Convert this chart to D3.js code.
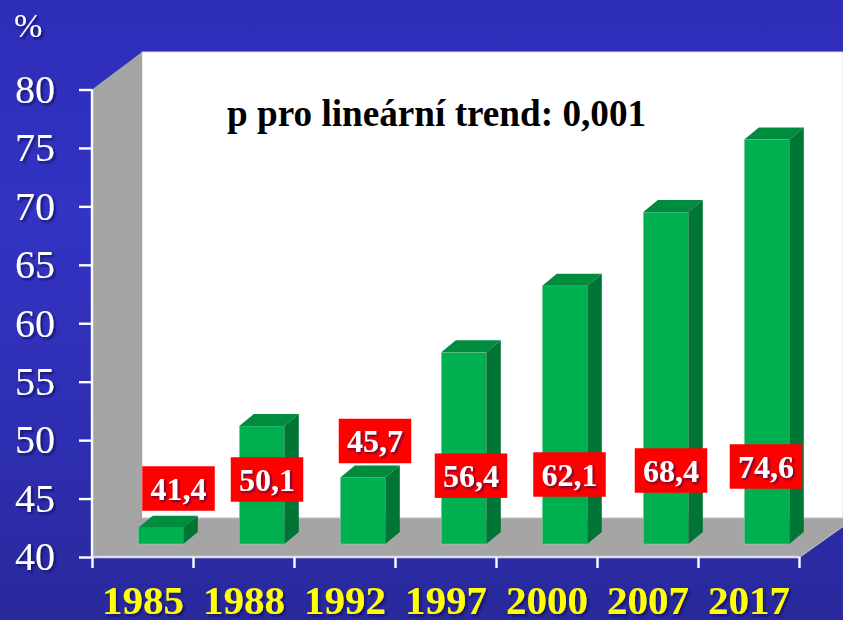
<!DOCTYPE html>
<html>
<head>
<meta charset="utf-8">
<script src="https://cdn.jsdelivr.net/npm/d3@7/dist/d3.min.js"></script>
<style>
html,body{margin:0;padding:0;background:#2b2ba8;overflow:hidden}
svg{display:block}
text{font-family:"Liberation Serif",serif}
</style>
</head>
<body>
<svg id="chart" width="843" height="620"></svg>
<script>
const years = ["1985","1988","1992","1997","2000","2007","2017"];
const values = [41.4,50.1,45.7,56.4,62.1,68.4,74.6];
const valueLabels = ["41,4","50,1","45,7","56,4","62,1","68,4","74,6"];
const yTicks = [40,45,50,55,60,65,70,75,80];
const yUnit = "%";
const trendNote = "p pro lineární trend: 0,001";

const W = 843, H = 620;
const svg = d3.select("#chart");
const x = d3.scaleBand().domain(years).range([92,799]).paddingInner(0).paddingOuter(0);
const y = d3.scaleLinear().domain([40,80]).range([557,89.5]);

const depth = {dx:50, dy:-39};
const barDepth = {dx:14.5, dy:-12};
const barFront = {offset:46.3, width:45, lift:13};
// red box centres: x relative to each category's band start, y from the top of the frame
const boxW = 72.5, boxH = 44.5;
const boxCentre = [[86.5,488.5],[74,479.5],[81,441],[76,475.7],[73.5,474.5],[74,470.5],[68,466.5]];

const defs = svg.append("defs");
const bg = defs.append("linearGradient").attr("id","bg").attr("x1",0).attr("x2",0).attr("y1",0).attr("y2",1);
[[0,"#2d2db8"],[0.35,"#3333c4"],[0.7,"#2e2eb2"],[1,"#29299c"]].forEach(s=>bg.append("stop").attr("offset",s[0]).attr("stop-color",s[1]));
const sh = (id,d,o)=>defs.append("filter").attr("id",id).attr("x","-20%").attr("y","-30%").attr("width","150%").attr("height","170%")
  .append("feDropShadow").attr("dx",d).attr("dy",d).attr("stdDeviation",0.9).attr("flood-color","#10105a").attr("flood-opacity",o);
sh("ts",2,0.8);
sh("ls",1.5,0.75);

svg.append("rect").attr("width",W).attr("height",H).attr("fill","url(#bg)");

const x0 = x.range()[0], x1 = x.range()[1], yB = y(40), yT = y(80);
// back wall, side wall, floor
svg.append("rect").attr("x",x0+depth.dx).attr("y",yT+depth.dy+1.5).attr("width",W-x0-depth.dx).attr("height",yB-yT-1.5)
  .attr("fill","#fff").attr("stroke","#d9d9e6").attr("stroke-width",1);
svg.append("polygon").attr("fill","#a5a5a5")
  .attr("points",[[x0,yT],[x0+depth.dx,yT+depth.dy+1.5],[x0+depth.dx,yB+depth.dy],[x0,yB]].join(" "));
svg.append("polygon").attr("fill","#a5a5a5").attr("stroke","#c9c9c9").attr("stroke-width",1)
  .attr("points",[[x0,yB],[x0+depth.dx,yB+depth.dy],[W+12,yB+depth.dy],[x1+1,yB]].join(" "));
svg.append("line").attr("x1",x0).attr("y1",yB).attr("x2",x0+depth.dx).attr("y2",yB+depth.dy).attr("stroke","#8c8c8c").attr("stroke-width",0.8);

// bars
const bars = svg.append("g").selectAll("g").data(years.map((yr,i)=>({yr,v:values[i]}))).join("g");
const fx = d=>x(d.yr)+barFront.offset;
const ft = d=>y(d.v)-barFront.lift;
const fb = yB-barFront.lift;
bars.append("rect").attr("x",fx).attr("y",ft).attr("width",barFront.width).attr("height",d=>fb-ft(d))
  .attr("fill","#00b050").attr("stroke","#bfe6cd").attr("stroke-opacity",0.5).attr("stroke-width",0.7);
bars.append("polygon").attr("fill","#008c3e")
  .attr("points",d=>[[fx(d),ft(d)],[fx(d)+barDepth.dx,ft(d)+barDepth.dy],[fx(d)+barFront.width+barDepth.dx,ft(d)+barDepth.dy],[fx(d)+barFront.width,ft(d)]].join(" "));
bars.append("polygon").attr("fill","#007536")
  .attr("points",d=>[[fx(d)+barFront.width,ft(d)],[fx(d)+barFront.width+barDepth.dx,ft(d)+barDepth.dy],[fx(d)+barFront.width+barDepth.dx,fb+barDepth.dy],[fx(d)+barFront.width,fb]].join(" "));

// axes
const yAxis = svg.append("g").attr("transform",`translate(${x0},0)`)
  .call(d3.axisLeft(y).tickValues(yTicks).tickSize(13).tickPadding(24));
const xAxis = svg.append("g").attr("transform",`translate(0,${yB})`)
  .call(d3.axisBottom(d3.scaleLinear().domain([0,years.length]).range(x.range())).tickValues(d3.range(years.length+1)).tickSize(11).tickFormat(""));
[yAxis,xAxis].forEach(a=>{
  a.selectAll("path").attr("stroke","#fff").attr("stroke-width",2.4);
  a.selectAll(".tick line").attr("stroke","#fff").attr("stroke-width",2.4);
});
xAxis.select("path").attr("d",`M${x0},0H${x1}`).attr("stroke","#dcdce8");
yAxis.select("path").attr("d",`M0,${yT}V${yB}`);
yAxis.selectAll("text").attr("font-size",40).attr("fill","#fff").attr("font-family","Liberation Serif").attr("dy","0.32em").attr("filter","url(#ts)");
svg.append("g").selectAll("text").data(years).join("text")
  .attr("x",d=>x(d)+x.bandwidth()/2+0.5).attr("y",614).attr("text-anchor","middle")
  .attr("font-size",41).attr("font-weight","bold").attr("fill","#ffff00").attr("filter","url(#ts)").text(d=>d);

// value labels
const lab = svg.append("g").selectAll("g").data(years).join("g");
lab.append("rect").attr("x",(d,i)=>x(d)+boxCentre[i][0]-boxW/2).attr("y",(d,i)=>boxCentre[i][1]-boxH/2)
  .attr("width",boxW).attr("height",boxH).attr("fill","#ff0000");
lab.append("text").attr("x",(d,i)=>x(d)+boxCentre[i][0]).attr("y",(d,i)=>boxCentre[i][1]+11)
  .attr("text-anchor","middle").attr("font-size",32).attr("font-weight","bold").attr("fill","#fff").attr("filter","url(#ls)")
  .text((d,i)=>valueLabels[i]);

svg.append("text").attr("x",14).attr("y",37).attr("font-size",34).attr("fill","#fff").attr("filter","url(#ts)").text(yUnit);
svg.append("text").attr("x",227).attr("y",126).attr("font-size",37.2).attr("font-weight","bold").attr("fill","#000").text(trendNote);
</script>
</body>
</html>
